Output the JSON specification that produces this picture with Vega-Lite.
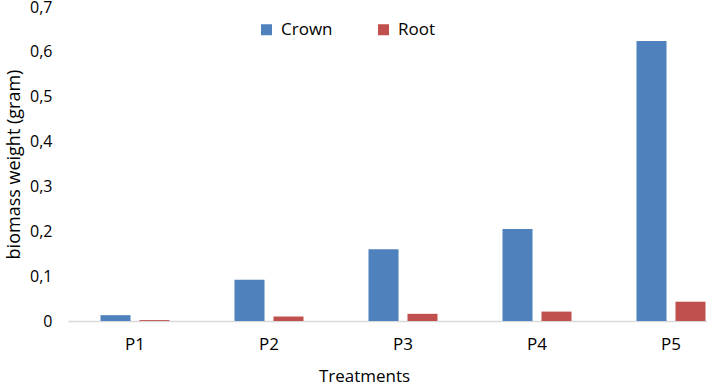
{
  "$schema": "https://vega.github.io/schema/vega-lite/v6.json",
  "autosize": {"type": "none"},
  "padding": {"left": 68, "top": 7, "right": 0, "bottom": 64},
  "width": 670,
  "height": 314,
  "background": "white",
  "data": {"values": [
    {"treatment": "P1", "part": "Crown", "weight": 0.013},
    {"treatment": "P1", "part": "Root", "weight": 0.002},
    {"treatment": "P2", "part": "Crown", "weight": 0.092},
    {"treatment": "P2", "part": "Root", "weight": 0.010},
    {"treatment": "P3", "part": "Crown", "weight": 0.160},
    {"treatment": "P3", "part": "Root", "weight": 0.016},
    {"treatment": "P4", "part": "Crown", "weight": 0.205},
    {"treatment": "P4", "part": "Root", "weight": 0.021},
    {"treatment": "P5", "part": "Crown", "weight": 0.624},
    {"treatment": "P5", "part": "Root", "weight": 0.043}
  ]},
  "mark": {"type": "bar"},
  "encoding": {
    "x": {
      "field": "treatment", "type": "nominal", "sort": null,
      "scale": {"paddingInner": 0.485, "paddingOuter": 0.2425},
      "axis": {"title": "Treatments", "labelAngle": 0, "ticks": false, "domainColor": "#d9d9d9", "domainWidth": 1.5, "labelPadding": 15, "titleX": 296, "titleY": 47, "titleAnchor": "middle", "labelFont": "Open Sans", "titleFont": "Open Sans", "labelFontSize": 17, "titleFontSize": 17, "titleFontWeight": "normal", "labelColor": "#000000", "titleColor": "#000000"}
    },
    "xOffset": {"field": "part", "type": "nominal", "scale": {"paddingInner": 0.23, "paddingOuter": 0}},
    "y": {
      "field": "weight", "type": "quantitative",
      "scale": {"domain": [0, 0.7], "nice": false},
      "axis": {"title": "biomass weight (gram)", "values": [0, 0.1, 0.2, 0.3, 0.4, 0.5, 0.6, 0.7], "labelExpr": "replace(format(datum.value, '.1~f'), '.', ',')", "grid": false, "domain": false, "ticks": false, "labelPadding": 16, "titlePadding": 6, "labelFont": "Open Sans", "titleFont": "Open Sans", "labelFontSize": 16, "titleFontSize": 18, "titleFontWeight": "normal", "labelColor": "#000000", "titleColor": "#000000"}
    },
    "color": {
      "field": "part", "type": "nominal",
      "scale": {"domain": ["Crown", "Root"], "range": ["#4F81BD", "#C0504D"]},
      "legend": {"title": null, "orient": "none", "legendX": 190, "legendY": 14, "direction": "horizontal", "symbolType": "square", "symbolSize": 121, "labelFont": "Open Sans", "labelFontSize": 17, "labelColor": "#000000", "columnPadding": 42, "labelOffset": 6}
    }
  },
  "config": {"view": {"stroke": null}}
}
